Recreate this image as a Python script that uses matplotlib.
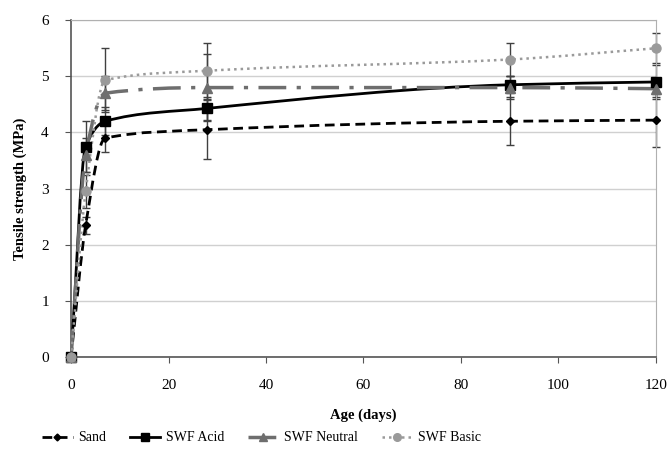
import numpy as np
import matplotlib.pyplot as plt
from matplotlib.path import Path
from matplotlib.patches import PathPatch
from matplotlib.lines import Line2D

# data
age = [0, 3, 7, 28, 90, 120]
sand = [0, 2.35, 3.9, 4.05, 4.2, 4.22]
sand_err = [0, 0.15, 0.25, 0.52, 0.43, 0.47]
acid = [0, 3.75, 4.2, 4.43, 4.85, 4.9]
acid_err = [0, 0.45, 0.25, 0.2, 0.15, 0.3]
neutral = [0, 3.6, 4.7, 4.8, 4.8, 4.78]
neutral_err = [0, 0.3, 0.3, 0.6, 0.2, 0.15]
basic = [0, 2.95, 4.93, 5.1, 5.3, 5.5]
basic_err = [0, 0.3, 0.57, 0.5, 0.3, 0.27]

plt.rcParams['font.family'] = ['Liberation Serif', 'DejaVu Serif']


def smooth_path(x, y):
    # smoothed line like the spreadsheet one, monotone cubic bezier segments
    x = np.asarray(x, float)
    y = np.asarray(y, float)
    h = np.diff(x)
    d = np.diff(y) / h
    n = len(x)
    s = np.zeros(n)
    s[0] = d[0]
    s[-1] = d[-1]
    for k in range(1, n - 1):
        if d[k - 1] * d[k] > 0:
            w1 = 2 * h[k] + h[k - 1]
            w2 = h[k] + 2 * h[k - 1]
            s[k] = (w1 + w2) / (w1 / d[k - 1] + w2 / d[k])
    verts = [(x[0], y[0])]
    codes = [Path.MOVETO]
    for k in range(n - 1):
        verts += [(x[k] + h[k] / 3, y[k] + s[k] * h[k] / 3),
                  (x[k + 1] - h[k] / 3, y[k + 1] - s[k + 1] * h[k] / 3),
                  (x[k + 1], y[k + 1])]
        codes += [Path.CURVE4] * 3
    return Path(verts, codes)


fig = plt.figure(figsize=(6.7, 4.59), dpi=100)
ax = fig.add_axes([0.106, 0.222, 0.873, 0.734])

series = [
    ('Sand', sand, sand_err, 'black', (0, (3.5, 2)), 'D', 4.5, 2.0),
    ('SWF Acid', acid, acid_err, 'black', '-', 's', 6.5, 2.0),
    ('SWF Neutral', neutral, neutral_err, '#6e6e6e', (0, (8, 3, 1.2, 3)), '^', 6.5, 2.5),
    ('SWF Basic', basic, basic_err, '#9a9a9a', (0, (1, 1.6)), 'o', 6.5, 1.8),
]

handles = []
for name, vals, err, col, ls, mk, ms, lw in series:
    eb = ax.errorbar(age, vals, yerr=err, fmt='none', ecolor='#404040',
                     elinewidth=1, capsize=3, capthick=1, zorder=2)
    for art in eb.lines[1] + eb.lines[2]:
        art.set_clip_on(False)
    patch = PathPatch(smooth_path(age, vals), facecolor='none', edgecolor=col,
                      linestyle=ls, linewidth=lw, zorder=3)
    ax.add_patch(patch)
    ax.plot(age, vals, linestyle='none', marker=mk, markersize=ms,
            color=col, zorder=4, clip_on=False)
    handles.append(Line2D([], [], color=col, linestyle=ls, linewidth=lw,
                          marker=mk, markersize=ms - 1))

ax.set_xlim(0, 120)
ax.set_ylim(0, 6)
ax.set_xticks(range(0, 121, 20))
ax.set_yticks(range(0, 7))
ax.yaxis.grid(True, color='#d0d0d0', linewidth=1)
ax.set_axisbelow(True)
ax.tick_params(labelsize=11, length=4, direction='out', color='#555555')
ax.tick_params(axis='x', pad=12)
ax.tick_params(axis='y', pad=12)
for side in ['top', 'right']:
    ax.spines[side].set_color('#b0b0b0')
for side in ['left', 'bottom']:
    ax.spines[side].set_color('#555555')
    ax.spines[side].set_linewidth(1.2)

ax.set_xlabel('Age (days)', fontsize=10.5, fontweight='bold', labelpad=12)
ax.set_ylabel('Tensile strength (MPa)', fontsize=10.5, fontweight='bold', labelpad=10)

fig.legend(handles, [s[0] for s in series], loc='center left', ncol=4,
           bbox_to_anchor=(0.063, 0.046), frameon=False, fontsize=10,
           handlelength=2.2, columnspacing=1.7, handletextpad=0.4,
           borderaxespad=0, borderpad=0)

fig.savefig('out.png', dpi=100)
